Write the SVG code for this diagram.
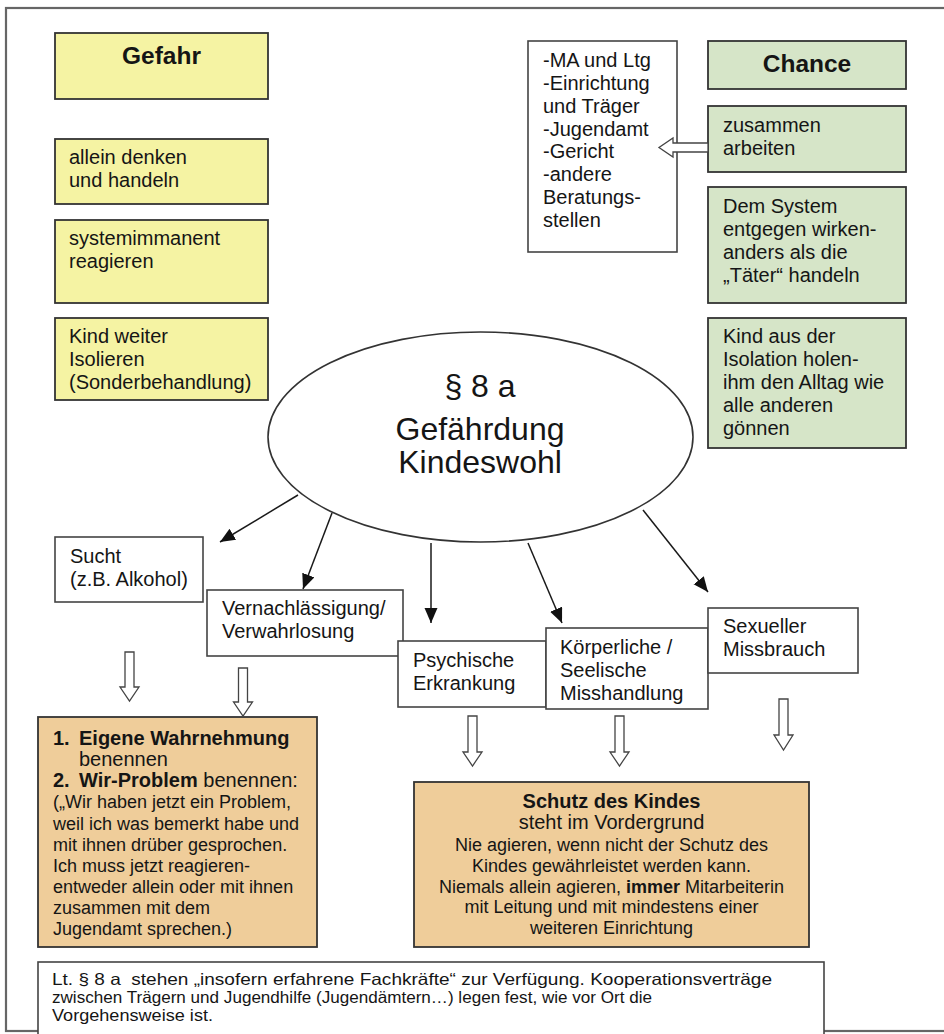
<svg xmlns="http://www.w3.org/2000/svg" width="944" height="1034" viewBox="0 0 944 1034">
<style>
text{font-family:"Liberation Sans",Arial,sans-serif;fill:#151515}
.t{font-size:20px}
.h{font-size:24.5px;font-weight:bold}
.o{font-size:18px}
.l{font-size:20px}
.b{font-weight:bold}
.y{fill:#F5F3A3;stroke:#333;stroke-width:1.8}
.g{fill:#D6E5C8;stroke:#333;stroke-width:1.8}
.n{fill:#EFCD9A;stroke:#333;stroke-width:1.8}
.w{fill:#fff;stroke:#444;stroke-width:1.6}
.ha{fill:#fff;stroke:#444;stroke-width:1.3}
.c{stroke:#1a1a1a;stroke-width:1.5;fill:none;marker-end:url(#ah)}
</style>
<defs>
<marker id="ah" markerUnits="userSpaceOnUse" markerWidth="16" markerHeight="14" refX="15" refY="6.5" orient="auto">
<path d="M0,0 L15,6.5 L0,13 z" fill="#111"/>
</marker>
</defs>
<rect x="0" y="0" width="944" height="1034" fill="#fff"/>
<rect id="frame" x="6" y="8" width="950" height="1023" fill="none" stroke="#666" stroke-width="2.2"/>

<g id="gefahr"><rect class="y" x="55" y="33" width="213" height="66"/><text class="h" x="161.5" y="64" text-anchor="middle">Gefahr</text></g>
<g id="allein"><rect class="y" x="55" y="139" width="213" height="65"/><text class="t" x="69" y="164">allein denken</text><text class="t" x="69" y="187">und handeln</text></g>
<g id="system"><rect class="y" x="55" y="220" width="213" height="83"/><text class="t" x="69" y="245">systemimmanent</text><text class="t" x="69" y="268">reagieren</text></g>
<g id="isolieren"><rect class="y" x="55" y="318" width="213" height="82"/><text class="t" x="69" y="343">Kind weiter</text><text class="t" x="69" y="366">Isolieren</text><text class="t" x="69" y="389">(Sonderbehandlung)</text></g>

<g id="partner"><rect class="w" x="528" y="41" width="149" height="211"/>
<text class="t" x="543" y="67">-MA und Ltg</text><text class="t" x="543" y="90">-Einrichtung</text><text class="t" x="543" y="113">und Träger</text><text class="t" x="543" y="136">-Jugendamt</text><text class="t" x="543" y="158">-Gericht</text><text class="t" x="543" y="181">-andere</text><text class="t" x="543" y="204">Beratungs-</text><text class="t" x="543" y="227">stellen</text></g>

<g id="chance"><rect class="g" x="708" y="41" width="198" height="48"/><text class="h" x="807" y="72" text-anchor="middle">Chance</text></g>
<g id="zusammen"><rect class="g" x="708" y="106" width="198" height="66"/><text class="t" x="723" y="132">zusammen</text><text class="t" x="723" y="155">arbeiten</text></g>
<g id="entgegen"><rect class="g" x="708" y="187" width="198" height="116"/><text class="t" x="723" y="213">Dem System</text><text class="t" x="723" y="236">entgegen wirken-</text><text class="t" x="723" y="259">anders als die</text><text class="t" x="723" y="282">„Täter“ handeln</text></g>
<g id="isolation"><rect class="g" x="708" y="318" width="198" height="130"/><text class="t" x="723" y="343">Kind aus der</text><text class="t" x="723" y="366">Isolation holen-</text><text class="t" x="723" y="389">ihm den Alltag wie</text><text class="t" x="723" y="412">alle anderen</text><text class="t" x="723" y="435">gönnen</text></g>

<g id="center"><ellipse cx="480.5" cy="437" rx="212.5" ry="105" fill="#fff" stroke="#333" stroke-width="1.6"/>
<text x="480" y="397" font-size="32" text-anchor="middle">§ 8 a</text><text x="480" y="440" font-size="32" text-anchor="middle">Gefährdung</text><text x="480" y="473" font-size="32" text-anchor="middle">Kindeswohl</text></g>

<g id="sucht"><rect class="w" x="55" y="537" width="148" height="65"/><text class="t" x="70" y="563">Sucht</text><text class="t" x="70" y="586">(z.B. Alkohol)</text></g>
<g id="vernachl"><rect class="w" x="207" y="590" width="196" height="66"/><text class="t" x="222" y="615">Vernachlässigung/</text><text class="t" x="222" y="638">Verwahrlosung</text></g>
<g id="psychisch"><rect class="w" x="398" y="641" width="148" height="66"/><text class="t" x="413" y="667">Psychische</text><text class="t" x="413" y="690">Erkrankung</text></g>
<g id="koerper"><rect class="w" x="546" y="628" width="162" height="81"/><text class="t" x="560" y="654">Körperliche /</text><text class="t" x="560" y="677">Seelische</text><text class="t" x="560" y="700">Misshandlung</text></g>
<g id="sexuell"><rect class="w" x="708" y="608" width="150" height="65"/><text class="t" x="723" y="633">Sexueller</text><text class="t" x="723" y="656">Missbrauch</text></g>

<g id="wahrnehmung"><rect class="n" x="38" y="717" width="279" height="230"/>
<text class="l" y="745"><tspan class="b" x="53">1.</tspan><tspan class="b" x="79">Eigene Wahrnehmung</tspan></text>
<text class="l" x="79" y="766">benennen</text>
<text class="l" y="787"><tspan class="b" x="53">2.</tspan><tspan class="b" x="79">Wir-Problem</tspan><tspan> benennen:</tspan></text>
<text class="o" x="53" y="808">(„Wir haben jetzt ein Problem,</text>
<text class="o" x="53" y="830">weil ich was bemerkt habe und</text>
<text class="o" x="53" y="851">mit ihnen drüber gesprochen.</text>
<text class="o" x="53" y="872">Ich muss jetzt reagieren-</text>
<text class="o" x="53" y="893">entweder allein oder mit ihnen</text>
<text class="o" x="53" y="914">zusammen mit dem</text>
<text class="o" x="53" y="935">Jugendamt sprechen.)</text></g>

<g id="schutz"><rect class="n" x="414" y="782" width="395" height="165"/>
<g text-anchor="middle">
<text class="l b" x="611.5" y="808">Schutz des Kindes</text>
<text class="l" x="611.5" y="829">steht im Vordergrund</text>
<text class="o" x="611.5" y="851">Nie agieren, wenn nicht der Schutz des</text>
<text class="o" x="611.5" y="872">Kindes gewährleistet werden kann.</text>
<text class="o" x="611.5" y="893">Niemals allein agieren, <tspan class="b">immer</tspan> Mitarbeiterin</text>
<text class="o" x="611.5" y="913">mit Leitung und mit mindestens einer</text>
<text class="o" x="611.5" y="934">weiteren Einrichtung</text></g></g>

<g id="note"><rect class="w" x="38" y="962" width="786" height="80"/>
<text x="52" y="985" font-size="16.5" textLength="720" lengthAdjust="spacingAndGlyphs" xml:space="preserve">Lt. § 8 a  stehen „insofern erfahrene Fachkräfte“ zur Verfügung. Kooperationsverträge</text>
<text x="52" y="1003" font-size="16.5" textLength="600" lengthAdjust="spacingAndGlyphs">zwischen Trägern und Jugendhilfe (Jugendämtern…) legen fest, wie vor Ort die</text>
<text x="52" y="1021" font-size="16.5" textLength="161" lengthAdjust="spacingAndGlyphs">Vorgehensweise ist.</text></g>

<g id="connectors">
<line class="c" x1="298" y1="495" x2="220" y2="542"/>
<line class="c" x1="332" y1="513" x2="303" y2="589"/>
<line class="c" x1="431" y1="543" x2="431" y2="623"/>
<line class="c" x1="528" y1="543" x2="562" y2="623"/>
<line class="c" x1="643" y1="510" x2="708" y2="592"/>
<polygon class="ha" points="708,143 673,143 673,138 659,147.5 673,157 673,152 708,152"/>
<polygon class="ha" points="125,652 134,652 134,687 139,687 129.5,701 120,687 125,687"/>
<polygon class="ha" points="238.5,668 247.5,668 247.5,702 252.5,702 243,716 233.5,702 238.5,702"/>
<polygon class="ha" points="468,716 477,716 477,752 482,752 472.5,766 463,752 468,752"/>
<polygon class="ha" points="615,716 624,716 624,752 629,752 619.5,766 610,752 615,752"/>
<polygon class="ha" points="779,699 788,699 788,735 793,735 783.5,750 774,735 779,735"/>
</g>
</svg>
